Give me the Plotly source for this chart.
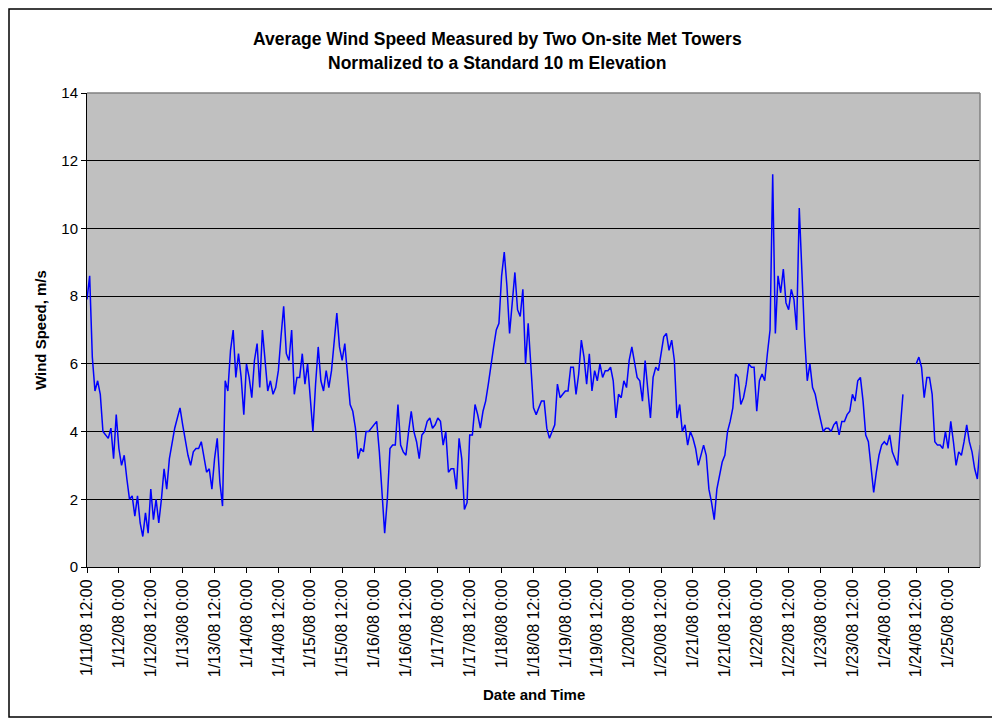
import pandas as pd
import plotly.graph_objects as go

# ---- data (hourly readings, m/s, starting 1/11/08 12:00) ----
start_time = "2008-01-11 12:00"
wind_speed = [
    7.9, 8.6, 6.2, 5.2, 5.5, 5.1, 4.0, 3.9, 3.8, 4.1, 3.2, 4.5, 3.5, 3.0, 3.3, 2.6,
    2.0, 2.1, 1.5, 2.1, 1.3, 0.9, 1.6, 1.0, 2.3, 1.4, 2.0, 1.3, 2.0, 2.9, 2.3, 3.2,
    3.7, 4.1, 4.4, 4.7, 4.2, 3.7, 3.3, 3.0, 3.4, 3.5, 3.5, 3.7, 3.2, 2.8, 2.9, 2.3,
    3.2, 3.8, 2.5, 1.8, 5.5, 5.2, 6.4, 7.0, 5.6, 6.3, 5.6, 4.5, 6.0, 5.6, 5.0, 6.1,
    6.6, 5.3, 7.0, 6.2, 5.2, 5.5, 5.1, 5.3, 5.8, 6.8, 7.7, 6.3, 6.1, 7.0, 5.1, 5.6,
    5.6, 6.3, 5.4, 6.0, 4.9, 4.0, 5.4, 6.5, 5.5, 5.2, 5.8, 5.3, 5.8, 6.6, 7.5, 6.5,
    6.1, 6.6, 5.6, 4.8, 4.6, 4.1, 3.2, 3.5, 3.4, 4.0, 4.0, 4.1, 4.2, 4.3, 3.4, 2.2,
    1.0, 2.0, 3.5, 3.6, 3.6, 4.8, 3.6, 3.4, 3.3, 4.0, 4.6, 4.0, 3.7, 3.2, 3.9, 4.0,
    4.3, 4.4, 4.1, 4.2, 4.4, 4.3, 3.6, 4.0, 2.8, 2.9, 2.9, 2.3, 3.8, 3.2, 1.7, 1.9,
    3.9, 3.9, 4.8, 4.5, 4.1, 4.6, 4.9, 5.4, 6.0, 6.5, 7.0, 7.2, 8.6, 9.3, 8.3, 6.9,
    7.8, 8.7, 7.6, 7.4, 8.2, 6.0, 7.2, 6.0, 4.7, 4.5, 4.7, 4.9, 4.9, 4.1, 3.8, 4.0,
    4.2, 5.4, 5.0, 5.1, 5.2, 5.2, 5.9, 5.9, 5.1, 5.7, 6.7, 6.2, 5.4, 6.3, 5.2, 5.8,
    5.5, 6.0, 5.6, 5.8, 5.8, 5.9, 5.5, 4.4, 5.1, 5.0, 5.5, 5.3, 6.1, 6.5, 6.0, 5.6,
    5.5, 4.9, 6.1, 5.2, 4.4, 5.6, 5.9, 5.8, 6.3, 6.8, 6.9, 6.4, 6.7, 6.1, 4.4, 4.8,
    4.0, 4.2, 3.6, 4.0, 3.8, 3.5, 3.0, 3.3, 3.6, 3.3, 2.3, 1.9, 1.4, 2.3, 2.7, 3.1,
    3.3, 4.0, 4.3, 4.7, 5.7, 5.6, 4.8, 5.0, 5.4, 6.0, 5.9, 5.9, 4.6, 5.5, 5.7, 5.5,
    6.3, 7.0, 11.6, 6.9, 8.6, 8.1, 8.8, 7.8, 7.6, 8.2, 7.9, 7.0, 10.6, 8.5, 6.8, 5.5,
    6.0, 5.3, 5.1, 4.7, 4.3, 4.0, 4.1, 4.1, 4.0, 4.2, 4.3, 3.9, 4.3, 4.3, 4.5, 4.6,
    5.1, 4.9, 5.5, 5.6, 4.9, 3.9, 3.7, 3.0, 2.2, 2.8, 3.3, 3.6, 3.7, 3.6, 3.9, 3.4,
    3.2, 3.0, 4.1, 5.1, None, None, None, None, 6.0, 6.2, 5.9, 5.0, 5.6, 5.6, 5.1, 3.7,
    3.6, 3.6, 3.5, 4.0, 3.5, 4.3, 3.7, 3.0, 3.4, 3.3, 3.7, 4.2, 3.7, 3.4, 2.9, 2.6,
    3.6,
]

tick_values = [
    "2008-01-11 12:00", "2008-01-12 00:00", "2008-01-12 12:00", "2008-01-13 00:00",
    "2008-01-13 12:00", "2008-01-14 00:00", "2008-01-14 12:00", "2008-01-15 00:00",
    "2008-01-15 12:00", "2008-01-16 00:00", "2008-01-16 12:00", "2008-01-17 00:00",
    "2008-01-17 12:00", "2008-01-18 00:00", "2008-01-18 12:00", "2008-01-19 00:00",
    "2008-01-19 12:00", "2008-01-20 00:00", "2008-01-20 12:00", "2008-01-21 00:00",
    "2008-01-21 12:00", "2008-01-22 00:00", "2008-01-22 12:00", "2008-01-23 00:00",
    "2008-01-23 12:00", "2008-01-24 00:00", "2008-01-24 12:00", "2008-01-25 00:00",
]
tick_labels = [
    "1/11/08 12:00", "1/12/08 0:00", "1/12/08 12:00", "1/13/08 0:00",
    "1/13/08 12:00", "1/14/08 0:00", "1/14/08 12:00", "1/15/08 0:00",
    "1/15/08 12:00", "1/16/08 0:00", "1/16/08 12:00", "1/17/08 0:00",
    "1/17/08 12:00", "1/18/08 0:00", "1/18/08 12:00", "1/19/08 0:00",
    "1/19/08 12:00", "1/20/08 0:00", "1/20/08 12:00", "1/21/08 0:00",
    "1/21/08 12:00", "1/22/08 0:00", "1/22/08 12:00", "1/23/08 0:00",
    "1/23/08 12:00", "1/24/08 0:00", "1/24/08 12:00", "1/25/08 0:00",
]
x_range = ["2008-01-11 12:00", "2008-01-25 12:00"]
y_ticks = [0, 2, 4, 6, 8, 10, 12, 14]

times = pd.date_range(start=start_time, periods=len(wind_speed), freq="h")

FONT = "Arial, Liberation Sans, sans-serif"

fig = go.Figure()
fig.add_trace(go.Scatter(
    x=times, y=wind_speed, mode="lines",
    line=dict(color="#0000FF", width=1.5),
    connectgaps=False, showlegend=False, hoverinfo="x+y",
))

# page has an 8px body margin: figure is placed at (8, 8)
OFF = 8
W, H = 992, 713
L, R, T, B = 79, 20, 85, 154
pw, ph = W - L - R, H - T - B


def px_x(page_x):
    return (page_x - OFF - L) / pw


def px_y(page_y):
    return (H - B - (page_y - OFF)) / ph


fig.update_layout(
    width=W, height=H, autosize=False,
    margin=dict(l=L, r=R, t=T, b=B),
    paper_bgcolor="white", plot_bgcolor="#C0C0C0",
    font=dict(family=FONT, size=15, color="black"),
    xaxis=dict(
        type="date", range=x_range,
        tickmode="array", tickvals=tick_values, ticktext=tick_labels,
        tickangle=-90, ticks="outside", ticklen=5, tickcolor="black",
        showline=True, linecolor="black", linewidth=1,
        showgrid=False, zeroline=False,
        tickfont=dict(family=FONT, size=16, color="black"),
    ),
    yaxis=dict(
        range=[0, 14], tickmode="array", tickvals=y_ticks,
        ticks="outside", ticklen=5, tickcolor="black",
        showline=True, linecolor="black", linewidth=1,
        showgrid=True, gridcolor="black", gridwidth=1, zeroline=False,
        tickfont=dict(family=FONT, size=15, color="black"),
    ),
    shapes=[
        dict(type="line", xref="paper", yref="paper", x0=0, x1=1, y0=1, y1=1,
             line=dict(color="#808080", width=1.5)),
        dict(type="line", xref="paper", yref="paper", x0=1, x1=1, y0=0, y1=1,
             line=dict(color="#808080", width=1.5)),
        dict(type="rect", xref="paper", yref="paper",
             x0=px_x(9), x1=px_x(995), y0=px_y(717), y1=px_y(9),
             line=dict(color="black", width=1.5), fillcolor="rgba(0,0,0,0)"),
    ],
    annotations=[
        dict(text="<b>Average Wind Speed Measured by Two On-site Met Towers</b>",
             xref="paper", yref="paper", x=px_x(497), y=px_y(39),
             xanchor="center", yanchor="middle", showarrow=False,
             font=dict(family=FONT, size=17.5, color="black")),
        dict(text="<b>Normalized to a Standard 10 m Elevation</b>",
             xref="paper", yref="paper", x=px_x(497), y=px_y(63),
             xanchor="center", yanchor="middle", showarrow=False,
             font=dict(family=FONT, size=17.5, color="black")),
        dict(text="<b>Wind Speed, m/s</b>", textangle=-90,
             xref="paper", yref="paper", x=px_x(40), y=0.5,
             xanchor="center", yanchor="middle", showarrow=False,
             font=dict(family=FONT, size=15, color="black")),
        dict(text="<b>Date and Time</b>",
             xref="paper", yref="paper", x=0.5, y=px_y(694),
             xanchor="center", yanchor="middle", showarrow=False,
             font=dict(family=FONT, size=15, color="black")),
    ],
)

fig.write_html("out.html")
